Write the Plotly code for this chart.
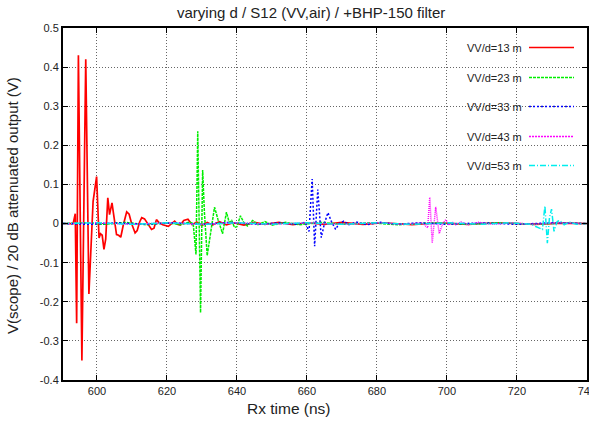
import plotly.graph_objects as go

# ---------------- data ----------------
series_names = ["VV/d=13 m", "VV/d=23 m", "VV/d=33 m", "VV/d=43 m", "VV/d=53 m"]

t_d13 = [590.3, 593.2, 593.8, 594.2, 594.7, 595.7, 596.8, 597.7, 598.9, 599.9,
         600.6, 601.0, 601.5, 602.0, 602.5, 603.1, 603.6, 604.3, 604.9, 605.6,
         606.2, 606.8, 607.5, 608.5, 609.2, 609.9, 610.9, 611.5, 612.2, 612.8,
         613.6, 614.4, 615.6, 616.3, 617.0, 617.8, 618.8, 620.4, 621.3, 622.2,
         623.0, 623.8, 624.8, 626.0, 627.2, 628.5, 630.0, 631.5, 633.0, 635.0,
         637.0, 639.0, 642.0, 645.0, 648.0, 652.0, 656.0, 660.0, 665.0, 670.0,
         676.0, 682.0, 690.0, 698.0, 706.0, 715.0, 725.0, 733.0, 740.0]
v_d13 = [0.0, 0.0, 0.025, -0.255, 0.43, -0.35, 0.42, -0.18, 0.057, 0.12,
         -0.037, -0.026, -0.03, -0.066, -0.04, 0.066, 0.023, 0.053, 0.015, -0.028,
         -0.03, -0.035, -0.005, 0.03, 0.024, 0.0, -0.024, -0.018, 0.004, 0.015,
         0.012, 0.002, -0.015, -0.012, 0.01, 0.002, -0.003, -0.007, 0.0, 0.006,
         -0.002, -0.004, 0.008, 0.011, -0.003, 0.004, -0.005, 0.003, -0.004, 0.005,
         -0.003, 0.002, -0.004, 0.003, -0.002, 0.003, -0.003, 0.002, -0.002, 0.003,
         -0.002, 0.002, -0.003, 0.002, -0.002, 0.002, -0.002, 0.001, 0.0]

t_d23 = [590.3, 596.0, 602.0, 608.0, 614.0, 620.0, 624.0, 626.5, 627.5, 628.3,
         628.8, 629.6, 630.2, 630.7, 631.5, 632.5, 633.6, 634.6, 635.9, 637.0,
         637.8, 638.5, 639.3, 640.0, 641.0, 642.0, 643.0, 644.5, 646.0, 648.0,
         650.0, 654.0, 658.0, 664.0, 670.0, 678.0, 686.0, 695.0, 705.0, 715.0,
         725.0, 733.0, 740.0]
v_d23 = [0.0, 0.002, -0.002, 0.003, -0.003, 0.002, -0.003, 0.004, 0.0, -0.079,
         0.236, -0.228, 0.137, 0.03, -0.082, -0.02, 0.042, 0.01, -0.026, 0.029,
         0.003, 0.008, -0.01, -0.008, 0.02, 0.002, -0.006, 0.008, -0.003, 0.005,
         -0.004, 0.003, -0.003, 0.003, -0.002, 0.002, -0.003, 0.002, -0.002, 0.002,
         -0.002, 0.002, 0.0]

t_d33 = [590.3, 598.0, 606.0, 614.0, 622.0, 630.0, 638.0, 646.0, 652.0, 657.0,
         659.5, 660.6, 661.5, 662.2, 663.1, 664.1, 665.0, 666.0, 667.0, 668.2,
         669.2, 670.5, 672.0, 674.0, 677.0, 681.0, 686.0, 692.0, 700.0, 710.0,
         720.0, 730.0, 740.0]
v_d33 = [0.0, -0.002, 0.002, -0.002, 0.002, -0.002, 0.003, -0.002, 0.002, -0.002,
         0.003, -0.02, 0.114, -0.058, 0.087, -0.036, 0.0, 0.028, 0.005, -0.015,
         0.0, 0.006, -0.003, 0.004, -0.003, 0.003, -0.002, 0.002, -0.002, 0.002,
         -0.002, 0.002, 0.0]

t_d43 = [590.3, 600.0, 610.0, 620.0, 630.0, 640.0, 650.0, 660.0, 670.0, 680.0,
         688.0, 693.0, 694.5, 695.1, 695.8, 696.8, 697.8, 698.8, 699.7, 700.6,
         701.5, 702.5, 704.0, 706.0, 709.0, 713.0, 718.0, 725.0, 732.0, 740.0]
v_d43 = [0.0, 0.002, -0.002, 0.002, -0.002, 0.002, -0.002, 0.002, -0.002, 0.002,
         -0.002, 0.002, -0.011, 0.067, -0.05, 0.043, -0.026, 0.0, 0.01, -0.004,
         0.004, -0.003, 0.004, -0.003, 0.003, -0.002, 0.002, -0.002, 0.002, 0.0]

t_d53 = [590.3, 600.0, 610.0, 620.0, 630.0, 640.0, 650.0, 660.0, 670.0, 680.0,
         690.0, 700.0, 710.0, 718.0, 724.0, 727.3, 728.0, 728.7, 729.3, 729.9,
         730.6, 731.5, 732.3, 733.5, 735.0, 737.0, 740.0]
v_d53 = [0.0, 0.002, -0.002, 0.002, -0.002, 0.002, -0.002, 0.002, -0.002, 0.002,
         -0.002, 0.002, -0.002, 0.002, -0.002, -0.015, 0.045, -0.05, 0.015, 0.037,
         -0.02, 0.005, 0.008, -0.003, 0.004, -0.002, 0.0]

x_tickvals = [600, 620, 640, 660, 680, 700, 720, 740]
x_ticktext = ["600", "620", "640", "660", "680", "700", "720", "740"]
y_tickvals = [-0.4, -0.3, -0.2, -0.1, 0, 0.1, 0.2, 0.3, 0.4, 0.5]
y_ticktext = ["-0.4", "-0.3", "-0.2", "-0.1", "0", "0.1", "0.2", "0.3", "0.4", "0.5"]

title_text = "varying d / S12 (VV,air) / +BHP-150 filter"
x_title = "Rx time (ns)"
y_title = "V(scope) / 20 dB attenuated output (V)"

# ---------------- styles ----------------
colors = ["#ff0000", "#00ee00", "#0000ff", "#ff00ff", "#00eeee"]
dashes = ["solid", "3px,1px", "2px,2px", "1px,1px", "6px,2px,1px,2px"]
widths = [1.7, 1.5, 1.5, 1.5, 1.5]
FONT = "Liberation Sans, Arial, sans-serif"

fig = go.Figure()
for name, t, v, c, d, w in zip(series_names,
                               [t_d13, t_d23, t_d33, t_d43, t_d53],
                               [v_d13, v_d23, v_d33, v_d43, v_d53],
                               colors, dashes, widths):
    fig.add_trace(go.Scatter(x=t, y=v, mode="lines", name=name,
                             line=dict(color=c, dash=d, width=w),
                             showlegend=False))

axis_common = dict(showline=True, linecolor="black", linewidth=2, mirror="ticks",
                   ticks="inside", ticklen=5, tickwidth=1, tickcolor="black",
                   showgrid=True, gridcolor="#666", gridwidth=1, griddash="1px,2px",
                   zeroline=False, automargin=False,
                   tickfont=dict(family=FONT, size=11, color="#222"))

fig.update_xaxes(range=[590.3, 740.03], tickvals=x_tickvals, ticktext=x_ticktext,
                 ticklabeloverflow="allow", **axis_common)
fig.update_yaxes(range=[-0.4, 0.5], tickvals=y_tickvals, ticktext=y_ticktext, **axis_common)

L, R, T, B = 63, 2, 28, 46
W, H = 589, 426
pw, ph = W - L - R, H - T - B

def px(x):
    return (x - L) / pw

def py(y):
    return (H - B - y) / ph

shapes = [dict(type="rect", xref="paper", yref="paper", x0=px(450), x1=1.0,
               y0=py(176), y1=1.0, fillcolor="white", line=dict(width=0),
               layer="between")]
annotations = []
rows = [47.5, 77.5, 106.5, 136.5, 165.5]
legend_dashes = ["solid", "3px,1px", "2px,2px", "2px,1px", "6px,2px,1px,2px"]
for name, c, d, w, yy in zip(series_names, colors, legend_dashes, widths, rows):
    shapes.append(dict(type="line", xref="paper", yref="paper",
                       x0=px(529), x1=px(574), y0=py(yy), y1=py(yy),
                       line=dict(color=c, dash=d, width=w), layer="above"))
    annotations.append(dict(xref="paper", yref="paper", x=px(524), y=py(yy),
                            text=name, showarrow=False, xanchor="right", yanchor="middle",
                            font=dict(family=FONT, size=11, color="#222")))

annotations.append(dict(xref="paper", yref="paper", x=px(311), y=py(12), text=title_text,
                        showarrow=False, xanchor="center", yanchor="middle",
                        font=dict(family=FONT, size=15, color="#222")))
annotations.append(dict(xref="paper", yref="paper", x=px(289), y=py(409), text=x_title,
                        showarrow=False, xanchor="center", yanchor="middle",
                        font=dict(family=FONT, size=15.5, color="#222")))
annotations.append(dict(xref="paper", yref="paper", x=px(13), y=py(206), text=y_title,
                        showarrow=False, xanchor="center", yanchor="middle", textangle=-90,
                        font=dict(family=FONT, size=15, color="#222")))

fig.update_layout(width=W, height=H, margin=dict(l=L, r=R, t=T, b=B, pad=0),
                  autosize=False, plot_bgcolor="white", paper_bgcolor="white",
                  shapes=shapes, annotations=annotations, showlegend=False)

fig.write_html("out.html")
